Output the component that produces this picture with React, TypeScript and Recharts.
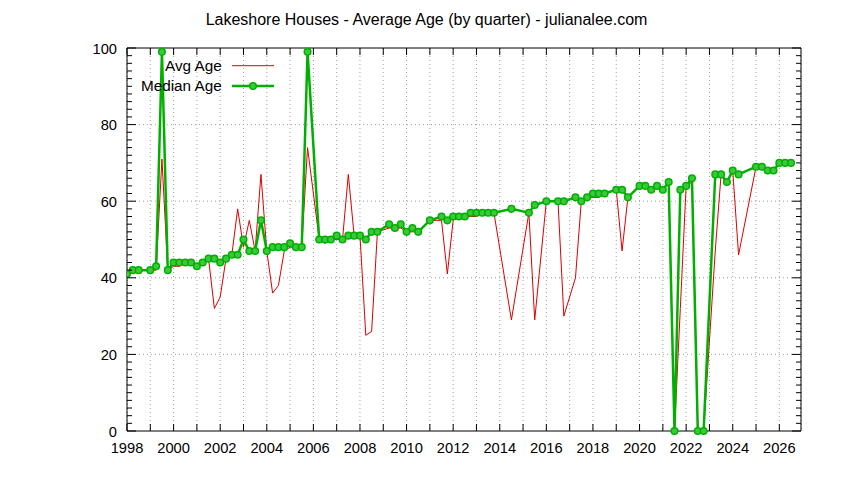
import React from "react";
import { LineChart, Line, XAxis, YAxis, CartesianGrid, ReferenceLine, ReferenceArea } from "recharts";

// quarter positions (decimal years)
const quarters = [
  1998.0, 1998.25, 1998.5, 1999.0, 1999.25, 1999.5, 1999.75,
  2000.0, 2000.25, 2000.5, 2000.75, 2001.0, 2001.25, 2001.5, 2001.75,
  2002.0, 2002.25, 2002.5, 2002.75, 2003.0, 2003.25, 2003.5, 2003.75,
  2004.0, 2004.25, 2004.5, 2004.75, 2005.0, 2005.25, 2005.5, 2005.75,
  2006.25, 2006.5, 2006.75, 2007.0, 2007.25, 2007.5, 2007.75,
  2008.0, 2008.25, 2008.5, 2008.75, 2009.25, 2009.5, 2009.75,
  2010.0, 2010.25, 2010.5, 2011.0, 2011.5, 2011.75,
  2012.0, 2012.25, 2012.5, 2012.75, 2013.0, 2013.25, 2013.5, 2013.75,
  2014.5, 2015.25, 2015.5, 2016.0, 2016.5, 2016.75, 2017.25, 2017.5, 2017.75,
  2018.0, 2018.25, 2018.5, 2019.0, 2019.25, 2019.5,
  2020.0, 2020.25, 2020.5, 2020.75, 2021.0, 2021.25, 2021.5, 2021.75,
  2022.0, 2022.25, 2022.5, 2022.75, 2023.25, 2023.5, 2023.75,
  2024.0, 2024.25, 2025.0, 2025.25, 2025.5, 2025.75, 2026.0, 2026.25, 2026.5,
];

const medianAge = [
  41, 42, 42, 42, 43, 99, 42,
  44, 44, 44, 44, 43, 44, 45, 45,
  44, 45, 46, 46, 50, 47, 47, 55,
  47, 48, 48, 48, 49, 48, 48, 99,
  50, 50, 50, 51, 50, 51, 51,
  51, 50, 52, 52, 54, 53, 54,
  52, 53, 52, 55, 56, 55,
  56, 56, 56, 57, 57, 57, 57, 57,
  58, 57, 59, 60, 60, 60, 61, 60, 61,
  62, 62, 62, 63, 63, 61,
  64, 64, 63, 64, 63, 65, 0, 63,
  64, 66, 0, 0, 67, 67, 65,
  68, 67, 69, 69, 68, 68, 70, 70, 70,
];

const avgAge = [
  41, 42, 42, 42, 42, 71, 42,
  43, 43, 44, 44, 43, 44, 45, 32,
  35, 45, 46, 58, 48, 55, 47, 67,
  47, 36, 38, 47, 48, 48, 48, 74,
  50, 49, 50, 50, 50, 67, 51,
  51, 25, 26, 52, 53, 53, 53,
  52, 52, 52, 55, 55, 41,
  55, 56, 56, 56, 56, 57, 57, 57,
  29, 57, 29, 60, 60, 30, 40, 60, 61,
  61, 61, 62, 63, 47, 61,
  64, 64, 63, 64, 63, 65, 0, 32,
  64, 65, 0, 0, 47, 67, 65,
  68, 46, 69, 69, 68, 68, 70, 69, 70,
];

const yearTicks = [
  1998, 1999, 2000, 2001, 2002, 2003, 2004, 2005, 2006, 2007, 2008, 2009, 2010, 2011,
  2012, 2013, 2014, 2015, 2016, 2017, 2018, 2019, 2020, 2021, 2022, 2023, 2024, 2025, 2026,
];
const yTicks = Array.from({ length: 51 }, (_, i) => i * 2);
const yGrid = [20, 40, 60, 80];

const TITLE = "Lakeshore Houses - Average Age (by quarter) - julianalee.com";
const FONT = "'Liberation Sans', Arial, sans-serif";

const PLOT_LEFT = 127;
const PLOT_TOP = 48;
const PLOT_RIGHT = 801;
const PLOT_BOTTOM = 431;

const RED = "#dd0000";
const GREEN = "#00b000";
const GREEN_FILL = "#3cc83c";

const data = quarters.map((t, i) => ({ t, avg: avgAge[i], median: medianAge[i] }));

const XTick = (props: any) => {
  const { x, payload } = props;
  const v = payload.value;
  return (
    <g>
      <line x1={x} y1={PLOT_BOTTOM} x2={x} y2={PLOT_BOTTOM - 7} stroke="#000" strokeWidth={1} />
      <line x1={x} y1={PLOT_TOP} x2={x} y2={PLOT_TOP + 7} stroke="#000" strokeWidth={1} />
      {v % 2 === 0 ? (
        <text x={x} y={453} textAnchor="middle" fontFamily={FONT} fontSize={14.7} fill="#000">
          {v}
        </text>
      ) : null}
    </g>
  );
};

const YTick = (props: any) => {
  const { y, payload } = props;
  const v = payload.value;
  const major = v % 20 === 0;
  const len = major ? 9 : 5;
  return (
    <g>
      <line x1={PLOT_LEFT} y1={y} x2={PLOT_LEFT + len} y2={y} stroke="#000" strokeWidth={1} />
      <line x1={PLOT_RIGHT} y1={y} x2={PLOT_RIGHT - len} y2={y} stroke="#000" strokeWidth={1} />
      {major ? (
        <text x={117} y={y + 5.5} textAnchor="end" fontFamily={FONT} fontSize={14.7} fill="#000">
          {v}
        </text>
      ) : null}
    </g>
  );
};

export default function App() {
  return (
    <div style={{ position: "absolute", left: 0, top: 0, width: 844, height: 480, background: "#fff" }}>
      <LineChart
        width={844}
        height={480}
        data={data}
        margin={{ top: PLOT_TOP, right: 844 - PLOT_RIGHT, left: 0, bottom: 0 }}
      >
        <CartesianGrid vertical={true} horizontal={false} stroke="#a0a0a0" strokeDasharray="1 3" />
        {yGrid.map((g) => (
          <ReferenceLine key={g} y={g} stroke="#a0a0a0" strokeDasharray="1 3" />
        ))}
        <XAxis
          dataKey="t"
          type="number"
          domain={[1998, 2026.93]}
          ticks={yearTicks}
          allowDataOverflow
          height={480 - PLOT_BOTTOM}
          axisLine={false}
          tickLine={false}
          tick={<XTick />}
          interval={0}
        />
        <YAxis
          type="number"
          domain={[0, 100]}
          ticks={yTicks}
          width={PLOT_LEFT}
          axisLine={false}
          tickLine={false}
          tick={<YTick />}
          interval={0}
        />
        <ReferenceArea x1={1998} x2={2026.93} y1={0} y2={100} fill="none" stroke="#000" strokeWidth={1} ifOverflow="visible" />
        <Line
          type="linear"
          dataKey="avg"
          stroke={RED}
          strokeWidth={1}
          dot={false}
          isAnimationActive={false}
        />
        <Line
          type="linear"
          dataKey="median"
          stroke={GREEN}
          strokeWidth={2.5}
          dot={{ r: 3.3, stroke: GREEN, strokeWidth: 1.5, fill: GREEN_FILL }}
          isAnimationActive={false}
        />
      </LineChart>
      <svg
        width={844}
        height={480}
        style={{ position: "absolute", left: 0, top: 0, pointerEvents: "none" }}
      >
        <text x={426.5} y={25} textAnchor="middle" fontFamily={FONT} fontSize={16} fill="#000">
          {TITLE}
        </text>
        <text x={221.7} y={71} textAnchor="end" fontFamily={FONT} fontSize={15.3} fill="#000">
          Avg Age
        </text>
        <line x1={232} y1={65.7} x2={274} y2={65.7} stroke={RED} strokeWidth={1} />
        <text x={221.7} y={91} textAnchor="end" fontFamily={FONT} fontSize={15.3} fill="#000">
          Median Age
        </text>
        <line x1={232} y1={86} x2={274} y2={86} stroke={GREEN} strokeWidth={2.5} />
        <circle cx={253} cy={86} r={3.3} stroke={GREEN} strokeWidth={1.5} fill={GREEN_FILL} />
      </svg>
    </div>
  );
}
